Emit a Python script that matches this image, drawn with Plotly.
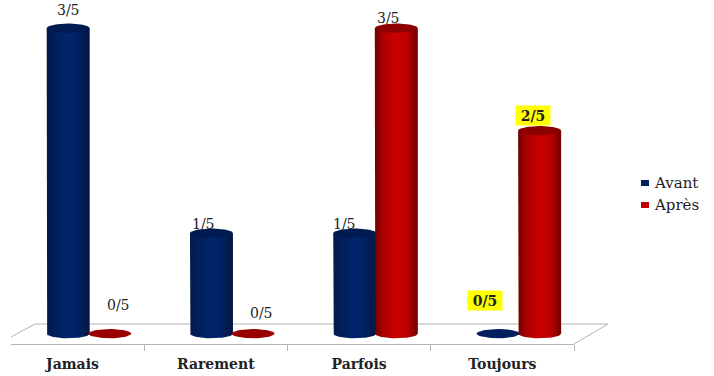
import numpy as np
import plotly.graph_objects as go

categories = ["Jamais", "Rarement", "Parfois", "Toujours"]
avant = [3, 1, 1, 0]
apres = [0, 0, 3, 2]
total = 5

W, H = 714, 376
HALF_W = 0.150     # cylinder radius in category units
ELL_H = 0.045      # ellipse half-height in value units
BASE = 0.02        # centre of the cylinder foot on the floor
FONT = "DejaVu Serif"
TEXT = "#222222"
GRID = "#b4b4b4"

BLUE = dict(scale=[[0, "#06184a"], [0.25, "#00215f"], [0.55, "#00266e"], [0.8, "#001f5c"], [1, "#04153f"]],
            top="#001b52", flat="#002060", name="Avant", swatch="#002060", offset=-0.03)
RED = dict(scale=[[0, "#720000"], [0.22, "#b00000"], [0.5, "#cc0000"], [0.75, "#bd0000"], [1, "#700000"]],
           top="#8c0000", flat="#990000", name="Après", swatch="#c00000", offset=0.26)

t = np.linspace(0, 2 * np.pi, 61)
fig = go.Figure()


def cylinder(xc, value, style):
    if value > 0:
        lower = np.linspace(np.pi, 2 * np.pi, 31)
        xs = np.concatenate([[xc - HALF_W], xc + HALF_W * np.cos(lower), [xc + HALF_W, xc - HALF_W]])
        ys = np.concatenate([[value], BASE + ELL_H * np.sin(lower), [value, value]])
        fig.add_trace(go.Scatter(
            x=xs, y=ys, mode="lines", line=dict(width=0), fill="toself",
            fillgradient=dict(type="horizontal", colorscale=style["scale"]),
            hoverinfo="skip", showlegend=False))
        centre = value
    else:
        centre = BASE
    fig.add_trace(go.Scatter(
        x=xc + HALF_W * np.cos(t), y=centre + ELL_H * np.sin(t),
        mode="lines", line=dict(width=0), fill="toself",
        fillcolor=style["top"] if value > 0 else style["flat"],
        hoverinfo="skip", showlegend=False))


for i in range(len(categories)):
    cylinder(i + BLUE["offset"], avant[i], BLUE)
    cylinder(i + RED["offset"], apres[i], RED)

# Pixel shifts of each value label from the top of its cylinder
label_avant = [(0, 18), (-8, 9), (-10, 9), (-13, 35)]
label_apres = [(9, 31), (8, 23), (-8, 10), (-7, 15)]
annotations = []
for style, values, shifts in ((BLUE, avant, label_avant), (RED, apres, label_apres)):
    for i, (v, (dx, dy)) in enumerate(zip(values, shifts)):
        highlighted = i == 3
        label = f"{v}/{total}"
        box = dict(bgcolor="#ffff00", width=30, height=15, borderpad=2) if highlighted else {}
        annotations.append(dict(
            x=i + style["offset"], y=v, text=f"<b>{label}</b>" if highlighted else label,
            showarrow=False, xshift=dx, yshift=dy,
            font=dict(family=FONT, size=14, color=TEXT), **box))

# Plot box in page pixels; the floor and swatches use paper positions derived from it
L, R, T, B = 11, 574, 0, 344


def px(x):
    return (x - L) / (R - L)


def py(y):
    return (B - y) / (B - T)


# Legend text, placed beside its swatch
for style, yp in ((BLUE, 183), (RED, 205)):
    annotations.append(dict(
        x=px(652), y=py(yp), xref="paper", yref="paper", xanchor="left", yanchor="middle",
        text=style["name"], showarrow=False, font=dict(family=FONT, size=15, color=TEXT)))

shapes = [
    dict(type="path", xref="paper", yref="paper", layer="below", line=dict(color=GRID, width=1),
         path=f"M {px(11)} {py(337)} L {px(35)} {py(324)} L {px(608)} {py(324)} L {px(574)} {py(344)}"),
]
for style, yp in ((BLUE, 183), (RED, 205)):
    shapes.append(dict(type="rect", xref="paper", yref="paper", line=dict(width=0), fillcolor=style["swatch"],
                       x0=px(641), x1=px(649), y0=py(yp - 3), y1=py(yp + 3)))

fig.update_layout(
    width=W, height=H, paper_bgcolor="white", plot_bgcolor="rgba(0,0,0,0)",
    margin=dict(l=L, r=W - R, t=T, b=H - B, autoexpand=False),
    annotations=annotations, shapes=shapes, showlegend=False,
    xaxis=dict(range=[-0.429, 3.5], tickmode="array", tickvals=list(range(len(categories))),
               ticktext=[f"<b>{c}</b>" for c in categories], ticks="", ticklabelstandoff=7,
               showline=True, linecolor=GRID, linewidth=1, showgrid=False, zeroline=False,
               tickfont=dict(family=FONT, size=14, color=TEXT),
               minor=dict(tick0=0.5, dtick=1, ticks="outside", ticklen=6, tickcolor=GRID, showgrid=False)),
    yaxis=dict(range=[-0.081, 3.275], visible=False, showgrid=False, zeroline=False),
)

fig.write_html("out.html", config=dict(displayModeBar=False))
